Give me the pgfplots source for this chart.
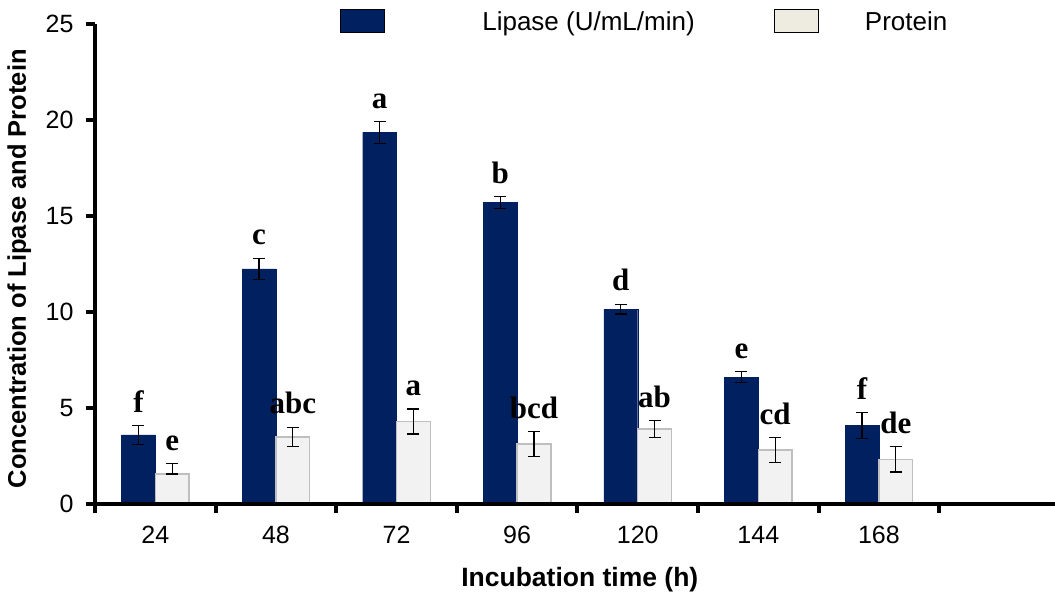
\documentclass[border=0pt]{standalone}
\usepackage{pgfplots}
\pgfplotsset{compat=1.18}
\usepackage{pgfplotstable}
\usepackage{fontspec}
\setmainfont{Liberation Sans}
\newfontfamily\tnr{Liberation Serif}
\definecolor{lipase}{HTML}{002060}
\definecolor{protfill}{HTML}{F2F2F2}
\definecolor{protedge}{HTML}{BFBFBF}
\definecolor{protleg}{HTML}{EEECE1}

\pgfplotstableread{
x v ep em lab
0 3.60 0.50 0.50 f
1 12.25 0.55 0.55 c
2 19.35 0.57 0.57 a
3 15.70 0.30 0.30 b
4 10.15 0.25 0.25 d
5 6.60 0.29 0.29 e
6 4.10 0.68 0.68 f
}\lipasetab
\pgfplotstableread{
x v ep em lab
0 1.56 0.55 0.00 e
1 3.50 0.50 0.50 abc
2 4.30 0.65 0.65 a
3 3.12 0.65 0.65 bcd
4 3.90 0.43 0.43 ab
5 2.81 0.64 0.64 cd
6 2.33 0.66 0.66 de
}\proteintab

\begin{document}
\begin{tikzpicture}
\begin{axis}[
  scale only axis, width=960pt, height=480pt,
  xmin=-0.5, xmax=7.46, ymin=0, ymax=25,
  axis x line*=bottom, axis y line*=left,
  axis line style={-, black},
  ytick={0,5,...,25},
  xtick={0,...,6}, xticklabels={24,48,72,96,120,144,168},
  minor xtick={-0.5,0.5,...,6.5},
  major x tick style={draw=none},
  tick align=outside, major tick length=9pt, minor tick length=9pt,
  major tick style={black, line width=4pt},
  minor tick style={black, line width=4pt},
  /pgf/number format/assume math mode=true,
  ticklabel style={font=\fontsize{25}{29}\selectfont},
  xticklabel style={yshift=-10pt},
  yticklabel style={xshift=-9pt},
  xlabel={Incubation time (h)}, ylabel={Concentration of Lipase and Protein},
  every axis x label/.style={at={(axis description cs:0.505,-0.158)}, anchor=center,
    font=\bfseries\fontsize{26.5}{30}\selectfont},
  every axis y label/.style={at={(axis description cs:-0.079,0.49)}, rotate=90, anchor=center,
    font=\bfseries\fontsize{25.5}{30}\selectfont},
  legend style={at={(axis description cs:0.252,1.006)}, anchor=west, draw=none, fill=none,
    legend columns=2, font=\fontsize{26}{30}\selectfont,
    /tikz/every even column/.append style={column sep=77pt}},
  error bars/error bar style={black, line width=1.2pt},
  error bars/error mark options={rotate=90, mark size=6pt, line width=1.2pt, black},
  clip=false,
]
\addplot[ybar, bar width=0.28, bar shift=0pt, fill=lipase, draw=lipase,
  error bars/.cd, y dir=both, y explicit,
  /pgfplots/legend image code/.code={\draw[fill=lipase, draw=black, line width=1.2pt] (0pt,-11pt) rectangle (44pt,12pt);}]
  table[x expr=\thisrow{x}-0.14, y=v, y error plus=ep, y error minus=em]{\lipasetab};
\addlegendentry{\hspace{95pt}Lipase (U/mL/min)}
\addplot[ybar, bar width=0.28, bar shift=0pt, fill=protfill, draw=protedge, line width=1.5pt,
  error bars/.cd, y dir=both, y explicit,
  /pgfplots/legend image code/.code={\draw[fill=protleg, draw=black, line width=1.2pt] (0pt,-11pt) rectangle (44pt,12pt);}]
  table[x expr=\thisrow{x}+0.14, y=v, y error plus=ep, y error minus=em]{\proteintab};
\addlegendentry{\hspace{44pt}Protein}
\addplot[draw=none, forget plot, nodes near coords, point meta=explicit symbolic,
  every node near coord/.style={anchor=south, inner sep=0pt, yshift=13pt, font=\tnr\bfseries\fontsize{31}{31}\selectfont}]
  table[x expr=\thisrow{x}-0.14, y expr=\thisrow{v}+\thisrow{ep}, meta=lab]{\lipasetab};
\addplot[draw=none, forget plot, nodes near coords, point meta=explicit symbolic,
  every node near coord/.style={anchor=south, inner sep=0pt, yshift=13pt, font=\tnr\bfseries\fontsize{31}{31}\selectfont}]
  table[x expr=\thisrow{x}+0.14, y expr=\thisrow{v}+\thisrow{ep}, meta=lab]{\proteintab};
\draw[line width=4pt, black] (rel axis cs:0,1) -- (rel axis cs:0,0) -- (rel axis cs:1,0);
\coordinate (o) at (rel axis cs:0,0);
\end{axis}
\pgfresetboundingbox
\path (o) ++(-95pt,-88pt) rectangle ++(1055pt,592pt);
\end{tikzpicture}
\end{document}
